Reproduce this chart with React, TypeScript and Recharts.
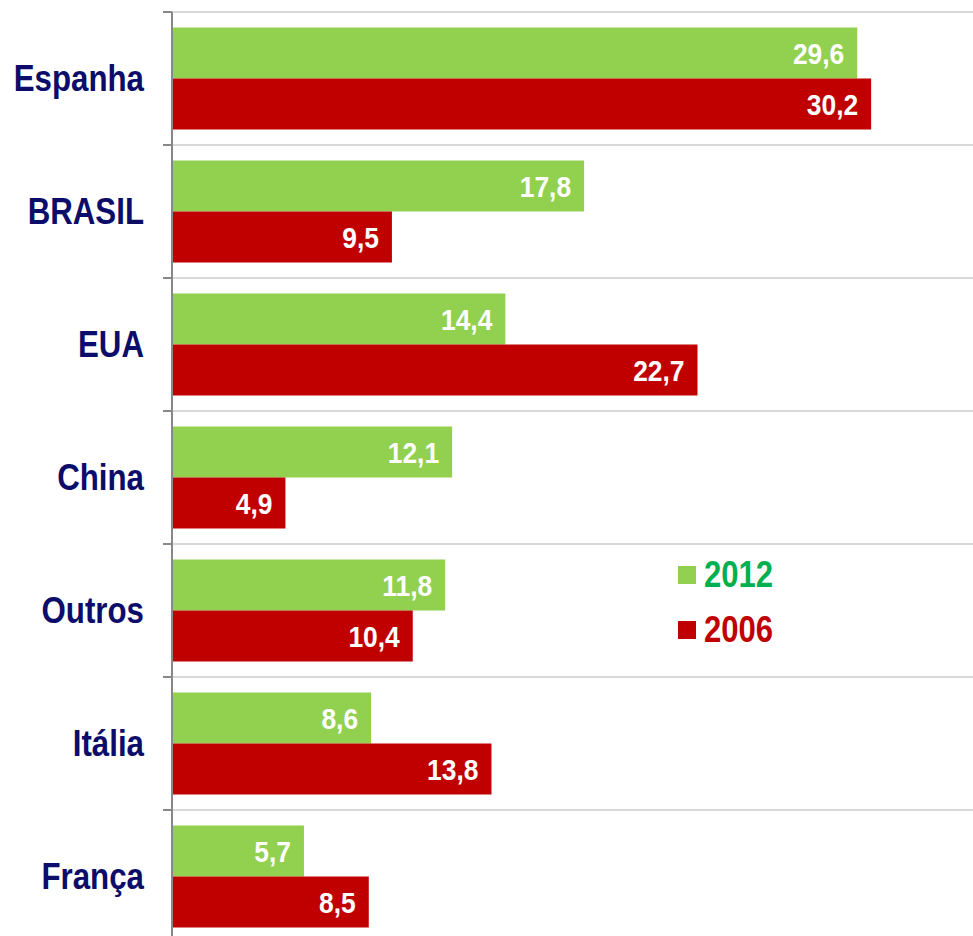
import { BarChart, Bar, XAxis, YAxis, CartesianGrid, LabelList } from 'recharts';

const countries = ['Espanha', 'BRASIL', 'EUA', 'China', 'Outros', 'Itália', 'França'];
const values2012 = [29.6, 17.8, 14.4, 12.1, 11.8, 8.6, 5.7];
const values2006 = [30.2, 9.5, 22.7, 4.9, 10.4, 13.8, 8.5];
const seriesNames = ['2012', '2006'];

const data = countries.map((c, i) => ({ country: c, y2012: values2012[i], y2006: values2006[i] }));

// no narrow font available, so squeeze Liberation Sans Bold
const FONT = '"Liberation Sans", Arial, sans-serif';
const GREEN = '#92D050';
const RED = '#C00000';
const NAVY = '#0C0C6A';

function CountryTick(props: any) {
  const { x, y, payload } = props;
  const half = payload && payload.offset ? payload.offset : 66;
  return (
    <g>
      <line x1={x - 1} x2={x + 8} y1={y - half} y2={y - half} stroke="#888" strokeWidth={2} />
      <text
        transform={`translate(${x - 20},${y}) scale(0.845,1)`}
        textAnchor="end"
        dominantBaseline="central"
        fill={NAVY}
        fontFamily={FONT}
        fontWeight="bold"
        fontSize={37}
      >
        {payload.value}
      </text>
    </g>
  );
}

function ValueLabel(props: any) {
  const { x, y, width, height, value } = props;
  return (
    <text
      transform={`translate(${x + width - 13},${y + height / 2}) scale(0.88,1)`}
      textAnchor="end"
      dominantBaseline="central"
      fill="#fff"
      fontFamily={FONT}
      fontWeight="bold"
      fontSize={30}
    >
      {String(value).replace('.', ',')}
    </text>
  );
}

function LegendBox() {
  const colors = [GREEN, RED];
  const textColors = ['#00B050', RED];
  return (
    <div style={{ position: 'absolute', left: 678, top: 547, fontFamily: FONT, fontWeight: 'bold', fontSize: 37 }}>
      {seriesNames.map((s, i) => (
        <div key={s} style={{ display: 'flex', alignItems: 'center', height: 55 }}>
          <span style={{ display: 'inline-block', width: 18, height: 18, background: colors[i], marginRight: 8 }} />
          <span
            style={{
              color: textColors[i],
              lineHeight: '37px',
              display: 'inline-block',
              transform: 'scaleX(0.84)',
              transformOrigin: 'left center',
            }}
          >
            {s}
          </span>
        </div>
      ))}
    </div>
  );
}

export default function App() {
  return (
    <div style={{ position: 'fixed', left: 0, top: 0, width: 973, height: 936, overflow: 'hidden', background: '#fff' }}>
      <BarChart
        width={973}
        height={943}
        data={data}
        layout="vertical"
        margin={{ top: 12, right: 0, bottom: 0, left: 0 }}
        barCategoryGap="11.6%"
        barGap={0}
      >
        <CartesianGrid
          vertical={false}
          stroke="#D9D9D9"
          strokeWidth={2}
          horizontalCoordinatesGenerator={({ offset }: any) =>
            countries.map((_, i) => offset.top + (i * offset.height) / countries.length)
          }
        />
        <XAxis type="number" domain={[0, 34.6]} hide />
        <YAxis
          type="category"
          dataKey="country"
          width={172}
          axisLine={{ stroke: '#888', strokeWidth: 2 }}
          tickLine={false}
          tick={<CountryTick />}
          interval={0}
        />
        <Bar dataKey="y2012" name={seriesNames[0]} fill={GREEN} isAnimationActive={false}>
          <LabelList dataKey="y2012" content={<ValueLabel />} />
        </Bar>
        <Bar dataKey="y2006" name={seriesNames[1]} fill={RED} isAnimationActive={false}>
          <LabelList dataKey="y2006" content={<ValueLabel />} />
        </Bar>
      </BarChart>
      <LegendBox />
    </div>
  );
}
